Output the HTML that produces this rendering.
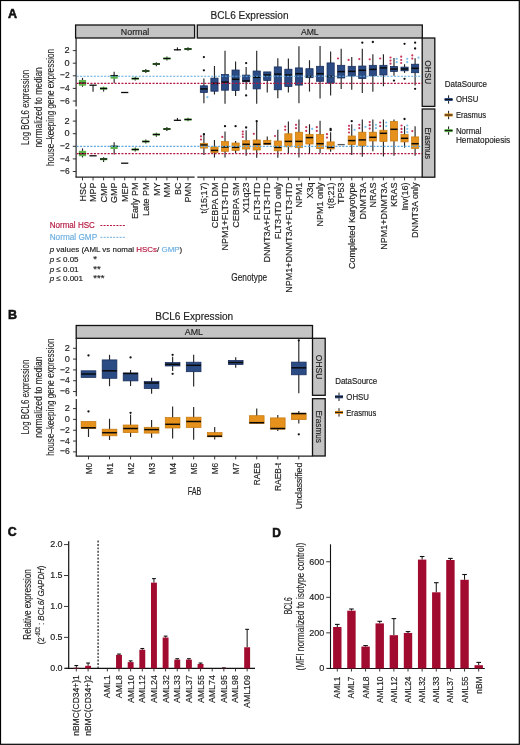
<!DOCTYPE html>
<html><head><meta charset="utf-8"><style>
html,body{margin:0;padding:0;background:#fff;}
svg{display:block;font-family:"Liberation Sans", sans-serif;will-change:transform;}
</style></head><body>
<svg width="520" height="745" viewBox="0 0 520 745">
<rect x="0" y="0" width="520" height="745" fill="#fff"/>
<text x="8" y="18.3" font-size="12.5" text-anchor="start" fill="#111" stroke="#111" stroke-width="0.55" font-weight="bold">A</text>
<text x="249.5" y="18.9" font-size="10" text-anchor="middle" fill="#222" stroke="#222" stroke-width="0.16" textLength="78" lengthAdjust="spacingAndGlyphs">BCL6 Expression</text>
<rect x="75.60" y="25.00" width="119.00" height="13.00" fill="#c4c4c4" stroke="#111" stroke-width="1.3"/>
<rect x="197.30" y="25.00" width="225.00" height="13.00" fill="#c4c4c4" stroke="#111" stroke-width="1.3"/>
<text x="135.1" y="34.7" font-size="8.8" text-anchor="middle" fill="#222" stroke="#222" stroke-width="0.16" textLength="28.5" lengthAdjust="spacingAndGlyphs">Normal</text>
<text x="309.8" y="34.7" font-size="8.8" text-anchor="middle" fill="#222" stroke="#222" stroke-width="0.16" textLength="17.8" lengthAdjust="spacingAndGlyphs">AML</text>
<rect x="422.20" y="38.00" width="12.60" height="68.40" fill="#c4c4c4" stroke="#111" stroke-width="1.3"/>
<rect x="422.20" y="109.00" width="12.60" height="68.20" fill="#c4c4c4" stroke="#111" stroke-width="1.3"/>
<text x="425.1" y="72.2" font-size="9.2" text-anchor="middle" fill="#222" stroke="#222" stroke-width="0.16" textLength="23.8" lengthAdjust="spacingAndGlyphs" transform="rotate(90 425.1 72.2)">OHSU</text>
<text x="425.1" y="143.3" font-size="9.2" text-anchor="middle" fill="#222" stroke="#222" stroke-width="0.16" textLength="31.6" lengthAdjust="spacingAndGlyphs" transform="rotate(90 425.1 143.3)">Erasmus</text>
<line x1="76.1" y1="37.7" x2="76.1" y2="106.5" stroke="#222" stroke-width="1.2"/>
<line x1="76.1" y1="109.2" x2="76.1" y2="177.2" stroke="#222" stroke-width="1.2"/>
<line x1="75.5" y1="177.1" x2="194.6" y2="177.1" stroke="#222" stroke-width="1.2"/>
<line x1="197.3" y1="177.1" x2="422.2" y2="177.1" stroke="#222" stroke-width="1.2"/>
<line x1="72.8" y1="50.6" x2="76.1" y2="50.6" stroke="#222" stroke-width="0.9"/>
<text x="69.6" y="53.2" font-size="9.2" text-anchor="end" fill="#222" stroke="#222" stroke-width="0.16">2</text>
<line x1="72.8" y1="63.2" x2="76.1" y2="63.2" stroke="#222" stroke-width="0.9"/>
<text x="69.6" y="65.8" font-size="9.2" text-anchor="end" fill="#222" stroke="#222" stroke-width="0.16">0</text>
<line x1="72.8" y1="75.8" x2="76.1" y2="75.8" stroke="#222" stroke-width="0.9"/>
<text x="69.6" y="78.39999999999999" font-size="9.2" text-anchor="end" fill="#222" stroke="#222" stroke-width="0.16" textLength="9.6" lengthAdjust="spacingAndGlyphs">−2</text>
<line x1="72.8" y1="88.4" x2="76.1" y2="88.4" stroke="#222" stroke-width="0.9"/>
<text x="69.6" y="91.0" font-size="9.2" text-anchor="end" fill="#222" stroke="#222" stroke-width="0.16" textLength="9.6" lengthAdjust="spacingAndGlyphs">−4</text>
<line x1="72.8" y1="101.0" x2="76.1" y2="101.0" stroke="#222" stroke-width="0.9"/>
<text x="69.6" y="103.6" font-size="9.2" text-anchor="end" fill="#222" stroke="#222" stroke-width="0.16" textLength="9.6" lengthAdjust="spacingAndGlyphs">−6</text>
<line x1="72.8" y1="121.1" x2="76.1" y2="121.1" stroke="#222" stroke-width="0.9"/>
<text x="69.6" y="123.69999999999999" font-size="9.2" text-anchor="end" fill="#222" stroke="#222" stroke-width="0.16">2</text>
<line x1="72.8" y1="133.7" x2="76.1" y2="133.7" stroke="#222" stroke-width="0.9"/>
<text x="69.6" y="136.29999999999998" font-size="9.2" text-anchor="end" fill="#222" stroke="#222" stroke-width="0.16">0</text>
<line x1="72.8" y1="146.3" x2="76.1" y2="146.3" stroke="#222" stroke-width="0.9"/>
<text x="69.6" y="148.9" font-size="9.2" text-anchor="end" fill="#222" stroke="#222" stroke-width="0.16" textLength="9.6" lengthAdjust="spacingAndGlyphs">−2</text>
<line x1="72.8" y1="158.9" x2="76.1" y2="158.9" stroke="#222" stroke-width="0.9"/>
<text x="69.6" y="161.5" font-size="9.2" text-anchor="end" fill="#222" stroke="#222" stroke-width="0.16" textLength="9.6" lengthAdjust="spacingAndGlyphs">−4</text>
<line x1="72.8" y1="171.5" x2="76.1" y2="171.5" stroke="#222" stroke-width="0.9"/>
<text x="69.6" y="174.1" font-size="9.2" text-anchor="end" fill="#222" stroke="#222" stroke-width="0.16" textLength="9.6" lengthAdjust="spacingAndGlyphs">−6</text>
<line x1="82.5" y1="177.1" x2="82.5" y2="180.4" stroke="#222" stroke-width="0.9"/>
<text x="85.7" y="182.5" font-size="9" text-anchor="end" fill="#222" stroke="#222" stroke-width="0.16" transform="rotate(-90 85.7 182.5)">HSC</text>
<line x1="93.05" y1="177.1" x2="93.05" y2="180.4" stroke="#222" stroke-width="0.9"/>
<text x="96.25" y="182.5" font-size="9" text-anchor="end" fill="#222" stroke="#222" stroke-width="0.16" transform="rotate(-90 96.25 182.5)">MPP</text>
<line x1="103.6" y1="177.1" x2="103.6" y2="180.4" stroke="#222" stroke-width="0.9"/>
<text x="106.8" y="182.5" font-size="9" text-anchor="end" fill="#222" stroke="#222" stroke-width="0.16" transform="rotate(-90 106.8 182.5)">CMP</text>
<line x1="114.15" y1="177.1" x2="114.15" y2="180.4" stroke="#222" stroke-width="0.9"/>
<text x="117.35000000000001" y="182.5" font-size="9" text-anchor="end" fill="#222" stroke="#222" stroke-width="0.16" transform="rotate(-90 117.35000000000001 182.5)">GMP</text>
<line x1="124.7" y1="177.1" x2="124.7" y2="180.4" stroke="#222" stroke-width="0.9"/>
<text x="127.9" y="182.5" font-size="9" text-anchor="end" fill="#222" stroke="#222" stroke-width="0.16" transform="rotate(-90 127.9 182.5)">MEP</text>
<line x1="135.25" y1="177.1" x2="135.25" y2="180.4" stroke="#222" stroke-width="0.9"/>
<text x="138.45" y="182.5" font-size="9" text-anchor="end" fill="#222" stroke="#222" stroke-width="0.16" transform="rotate(-90 138.45 182.5)">Early PM</text>
<line x1="145.8" y1="177.1" x2="145.8" y2="180.4" stroke="#222" stroke-width="0.9"/>
<text x="149.0" y="182.5" font-size="9" text-anchor="end" fill="#222" stroke="#222" stroke-width="0.16" transform="rotate(-90 149.0 182.5)">Late PM</text>
<line x1="156.35000000000002" y1="177.1" x2="156.35000000000002" y2="180.4" stroke="#222" stroke-width="0.9"/>
<text x="159.55" y="182.5" font-size="9" text-anchor="end" fill="#222" stroke="#222" stroke-width="0.16" transform="rotate(-90 159.55 182.5)">MY</text>
<line x1="166.9" y1="177.1" x2="166.9" y2="180.4" stroke="#222" stroke-width="0.9"/>
<text x="170.1" y="182.5" font-size="9" text-anchor="end" fill="#222" stroke="#222" stroke-width="0.16" transform="rotate(-90 170.1 182.5)">MM</text>
<line x1="177.45" y1="177.1" x2="177.45" y2="180.4" stroke="#222" stroke-width="0.9"/>
<text x="180.64999999999998" y="182.5" font-size="9" text-anchor="end" fill="#222" stroke="#222" stroke-width="0.16" transform="rotate(-90 180.64999999999998 182.5)">BC</text>
<line x1="188.0" y1="177.1" x2="188.0" y2="180.4" stroke="#222" stroke-width="0.9"/>
<text x="191.2" y="182.5" font-size="9" text-anchor="end" fill="#222" stroke="#222" stroke-width="0.16" transform="rotate(-90 191.2 182.5)">PMN</text>
<line x1="203.9" y1="177.1" x2="203.9" y2="180.4" stroke="#222" stroke-width="0.9"/>
<text x="207.1" y="182.5" font-size="9" text-anchor="end" fill="#222" stroke="#222" stroke-width="0.16" transform="rotate(-90 207.1 182.5)">t(15;17)</text>
<line x1="214.46" y1="177.1" x2="214.46" y2="180.4" stroke="#222" stroke-width="0.9"/>
<text x="217.66" y="182.5" font-size="9" text-anchor="end" fill="#222" stroke="#222" stroke-width="0.16" transform="rotate(-90 217.66 182.5)">CEBPA DM</text>
<line x1="225.02" y1="177.1" x2="225.02" y2="180.4" stroke="#222" stroke-width="0.9"/>
<text x="228.22" y="182.5" font-size="9" text-anchor="end" fill="#222" stroke="#222" stroke-width="0.16" transform="rotate(-90 228.22 182.5)">NPM1+FLT3-ITD</text>
<line x1="235.58" y1="177.1" x2="235.58" y2="180.4" stroke="#222" stroke-width="0.9"/>
<text x="238.78" y="182.5" font-size="9" text-anchor="end" fill="#222" stroke="#222" stroke-width="0.16" transform="rotate(-90 238.78 182.5)">CEBPA SM</text>
<line x1="246.14000000000001" y1="177.1" x2="246.14000000000001" y2="180.4" stroke="#222" stroke-width="0.9"/>
<text x="249.34" y="182.5" font-size="9" text-anchor="end" fill="#222" stroke="#222" stroke-width="0.16" transform="rotate(-90 249.34 182.5)">X11q23</text>
<line x1="256.7" y1="177.1" x2="256.7" y2="180.4" stroke="#222" stroke-width="0.9"/>
<text x="259.9" y="182.5" font-size="9" text-anchor="end" fill="#222" stroke="#222" stroke-width="0.16" transform="rotate(-90 259.9 182.5)">FLT3-ITD</text>
<line x1="267.26" y1="177.1" x2="267.26" y2="180.4" stroke="#222" stroke-width="0.9"/>
<text x="270.46" y="182.5" font-size="9" text-anchor="end" fill="#222" stroke="#222" stroke-width="0.16" transform="rotate(-90 270.46 182.5)">DNMT3A+FLT3-ITD</text>
<line x1="277.82" y1="177.1" x2="277.82" y2="180.4" stroke="#222" stroke-width="0.9"/>
<text x="281.02" y="182.5" font-size="9" text-anchor="end" fill="#222" stroke="#222" stroke-width="0.16" transform="rotate(-90 281.02 182.5)">FLT3-ITD only</text>
<line x1="288.38" y1="177.1" x2="288.38" y2="180.4" stroke="#222" stroke-width="0.9"/>
<text x="291.58" y="182.5" font-size="9" text-anchor="end" fill="#222" stroke="#222" stroke-width="0.16" transform="rotate(-90 291.58 182.5)">NPM1+DNMT3A+FLT3-ITD</text>
<line x1="298.94" y1="177.1" x2="298.94" y2="180.4" stroke="#222" stroke-width="0.9"/>
<text x="302.14" y="182.5" font-size="9" text-anchor="end" fill="#222" stroke="#222" stroke-width="0.16" transform="rotate(-90 302.14 182.5)">NPM1</text>
<line x1="309.5" y1="177.1" x2="309.5" y2="180.4" stroke="#222" stroke-width="0.9"/>
<text x="312.7" y="182.5" font-size="9" text-anchor="end" fill="#222" stroke="#222" stroke-width="0.16" transform="rotate(-90 312.7 182.5)">X3q</text>
<line x1="320.06" y1="177.1" x2="320.06" y2="180.4" stroke="#222" stroke-width="0.9"/>
<text x="323.26" y="182.5" font-size="9" text-anchor="end" fill="#222" stroke="#222" stroke-width="0.16" transform="rotate(-90 323.26 182.5)">NPM1 only</text>
<line x1="330.62" y1="177.1" x2="330.62" y2="180.4" stroke="#222" stroke-width="0.9"/>
<text x="333.82" y="182.5" font-size="9" text-anchor="end" fill="#222" stroke="#222" stroke-width="0.16" transform="rotate(-90 333.82 182.5)">t(8;21)</text>
<line x1="341.18" y1="177.1" x2="341.18" y2="180.4" stroke="#222" stroke-width="0.9"/>
<text x="344.38" y="182.5" font-size="9" text-anchor="end" fill="#222" stroke="#222" stroke-width="0.16" transform="rotate(-90 344.38 182.5)">TP53</text>
<line x1="351.74" y1="177.1" x2="351.74" y2="180.4" stroke="#222" stroke-width="0.9"/>
<text x="354.94" y="182.5" font-size="9" text-anchor="end" fill="#222" stroke="#222" stroke-width="0.16" transform="rotate(-90 354.94 182.5)">Completed Karyotype</text>
<line x1="362.3" y1="177.1" x2="362.3" y2="180.4" stroke="#222" stroke-width="0.9"/>
<text x="365.5" y="182.5" font-size="9" text-anchor="end" fill="#222" stroke="#222" stroke-width="0.16" transform="rotate(-90 365.5 182.5)">DNMT3A</text>
<line x1="372.86" y1="177.1" x2="372.86" y2="180.4" stroke="#222" stroke-width="0.9"/>
<text x="376.06" y="182.5" font-size="9" text-anchor="end" fill="#222" stroke="#222" stroke-width="0.16" transform="rotate(-90 376.06 182.5)">NRAS</text>
<line x1="383.42" y1="177.1" x2="383.42" y2="180.4" stroke="#222" stroke-width="0.9"/>
<text x="386.62" y="182.5" font-size="9" text-anchor="end" fill="#222" stroke="#222" stroke-width="0.16" transform="rotate(-90 386.62 182.5)">NPM1+DNMT3A</text>
<line x1="393.98" y1="177.1" x2="393.98" y2="180.4" stroke="#222" stroke-width="0.9"/>
<text x="397.18" y="182.5" font-size="9" text-anchor="end" fill="#222" stroke="#222" stroke-width="0.16" transform="rotate(-90 397.18 182.5)">KRAS</text>
<line x1="404.54" y1="177.1" x2="404.54" y2="180.4" stroke="#222" stroke-width="0.9"/>
<text x="407.74" y="182.5" font-size="9" text-anchor="end" fill="#222" stroke="#222" stroke-width="0.16" transform="rotate(-90 407.74 182.5)">Inv(16)</text>
<line x1="415.1" y1="177.1" x2="415.1" y2="180.4" stroke="#222" stroke-width="0.9"/>
<text x="418.3" y="182.5" font-size="9" text-anchor="end" fill="#222" stroke="#222" stroke-width="0.16" transform="rotate(-90 418.3 182.5)">DNMT3A only</text>
<line x1="82.5" y1="77.9" x2="82.5" y2="86.8" stroke="#262626" stroke-width="1.15"/>
<rect x="78.90" y="80.00" width="7.20" height="5.70" fill="#5cb54a"/>
<line x1="78.9" y1="83.1" x2="86.1" y2="83.1" stroke="#0a0a0a" stroke-width="1.3"/>
<line x1="93.05" y1="85.2" x2="93.05" y2="91.8" stroke="#262626" stroke-width="1.15"/>
<line x1="89.45" y1="85.2" x2="96.64999999999999" y2="85.2" stroke="#0a0a0a" stroke-width="1.3"/>
<line x1="103.6" y1="86.8" x2="103.6" y2="91.4" stroke="#262626" stroke-width="1.15"/>
<rect x="100.00" y="87.30" width="7.20" height="2.40" fill="#5cb54a"/>
<line x1="100.0" y1="88.5" x2="107.19999999999999" y2="88.5" stroke="#0a0a0a" stroke-width="1.3"/>
<line x1="114.15" y1="71.7" x2="114.15" y2="83.1" stroke="#262626" stroke-width="1.15"/>
<rect x="110.55" y="75.10" width="7.20" height="3.60" fill="#5cb54a"/>
<line x1="110.55000000000001" y1="75.6" x2="117.75" y2="75.6" stroke="#0a0a0a" stroke-width="1.3"/>
<line x1="121.10000000000001" y1="92.5" x2="128.3" y2="92.5" stroke="#0a0a0a" stroke-width="1.3"/>
<line x1="135.25" y1="76.8" x2="135.25" y2="80.6" stroke="#262626" stroke-width="1.15"/>
<rect x="131.65" y="77.60" width="7.20" height="2.00" fill="#5cb54a"/>
<line x1="131.65" y1="78.6" x2="138.85" y2="78.6" stroke="#0a0a0a" stroke-width="1.3"/>
<line x1="145.8" y1="69.0" x2="145.8" y2="73.0" stroke="#262626" stroke-width="1.15"/>
<rect x="142.20" y="70.00" width="7.20" height="2.00" fill="#5cb54a"/>
<line x1="142.20000000000002" y1="71.0" x2="149.4" y2="71.0" stroke="#0a0a0a" stroke-width="1.3"/>
<line x1="156.35000000000002" y1="62.2" x2="156.35000000000002" y2="66.2" stroke="#262626" stroke-width="1.15"/>
<rect x="152.75" y="63.00" width="7.20" height="2.00" fill="#5cb54a"/>
<line x1="152.75000000000003" y1="64.0" x2="159.95000000000002" y2="64.0" stroke="#0a0a0a" stroke-width="1.3"/>
<line x1="166.9" y1="56.4" x2="166.9" y2="60.4" stroke="#262626" stroke-width="1.15"/>
<rect x="163.30" y="57.50" width="7.20" height="2.00" fill="#5cb54a"/>
<line x1="163.3" y1="58.5" x2="170.5" y2="58.5" stroke="#0a0a0a" stroke-width="1.3"/>
<line x1="177.45" y1="47.4" x2="177.45" y2="50.4" stroke="#262626" stroke-width="1.15"/>
<line x1="173.85" y1="49.8" x2="181.04999999999998" y2="49.8" stroke="#0a0a0a" stroke-width="1.3"/>
<line x1="188.0" y1="47.2" x2="188.0" y2="50.8" stroke="#262626" stroke-width="1.15"/>
<rect x="184.40" y="48.00" width="7.20" height="2.00" fill="#5cb54a"/>
<line x1="184.4" y1="49.0" x2="191.6" y2="49.0" stroke="#0a0a0a" stroke-width="1.3"/>
<line x1="82.5" y1="148.4" x2="82.5" y2="157.5" stroke="#262626" stroke-width="1.15"/>
<rect x="78.90" y="150.80" width="7.20" height="5.40" fill="#5cb54a"/>
<line x1="78.9" y1="153.6" x2="86.1" y2="153.6" stroke="#0a0a0a" stroke-width="1.3"/>
<line x1="89.45" y1="155.8" x2="96.64999999999999" y2="155.8" stroke="#0a0a0a" stroke-width="1.3"/>
<line x1="103.6" y1="157.3" x2="103.6" y2="162.0" stroke="#262626" stroke-width="1.15"/>
<rect x="100.00" y="158.00" width="7.20" height="2.20" fill="#5cb54a"/>
<line x1="100.0" y1="159.0" x2="107.19999999999999" y2="159.0" stroke="#0a0a0a" stroke-width="1.3"/>
<line x1="114.15" y1="142.3" x2="114.15" y2="154.4" stroke="#262626" stroke-width="1.15"/>
<rect x="110.55" y="145.70" width="7.20" height="3.30" fill="#5cb54a"/>
<line x1="110.55000000000001" y1="146.3" x2="117.75" y2="146.3" stroke="#0a0a0a" stroke-width="1.3"/>
<line x1="121.10000000000001" y1="163.2" x2="128.3" y2="163.2" stroke="#0a0a0a" stroke-width="1.3"/>
<line x1="135.25" y1="147.5" x2="135.25" y2="151.5" stroke="#262626" stroke-width="1.15"/>
<rect x="131.65" y="148.50" width="7.20" height="2.00" fill="#5cb54a"/>
<line x1="131.65" y1="149.5" x2="138.85" y2="149.5" stroke="#0a0a0a" stroke-width="1.3"/>
<line x1="145.8" y1="139.5" x2="145.8" y2="143.5" stroke="#262626" stroke-width="1.15"/>
<rect x="142.20" y="140.50" width="7.20" height="2.00" fill="#5cb54a"/>
<line x1="142.20000000000002" y1="141.5" x2="149.4" y2="141.5" stroke="#0a0a0a" stroke-width="1.3"/>
<line x1="156.35000000000002" y1="132.7" x2="156.35000000000002" y2="136.7" stroke="#262626" stroke-width="1.15"/>
<rect x="152.75" y="133.50" width="7.20" height="2.00" fill="#5cb54a"/>
<line x1="152.75000000000003" y1="134.5" x2="159.95000000000002" y2="134.5" stroke="#0a0a0a" stroke-width="1.3"/>
<line x1="166.9" y1="126.9" x2="166.9" y2="130.9" stroke="#262626" stroke-width="1.15"/>
<rect x="163.30" y="128.00" width="7.20" height="2.00" fill="#5cb54a"/>
<line x1="163.3" y1="129.0" x2="170.5" y2="129.0" stroke="#0a0a0a" stroke-width="1.3"/>
<line x1="177.45" y1="117.9" x2="177.45" y2="120.9" stroke="#262626" stroke-width="1.15"/>
<line x1="173.85" y1="120.3" x2="181.04999999999998" y2="120.3" stroke="#0a0a0a" stroke-width="1.3"/>
<line x1="188.0" y1="117.7" x2="188.0" y2="121.3" stroke="#262626" stroke-width="1.15"/>
<rect x="184.40" y="118.50" width="7.20" height="2.00" fill="#5cb54a"/>
<line x1="184.4" y1="119.5" x2="191.6" y2="119.5" stroke="#0a0a0a" stroke-width="1.3"/>
<line x1="203.9" y1="78.4" x2="203.9" y2="103.3" stroke="#262626" stroke-width="1.15"/>
<rect x="200.30" y="85.80" width="7.20" height="6.70" fill="#2b4b84" stroke="#182d5a" stroke-width="0.75"/>
<line x1="200.3" y1="88.9" x2="207.5" y2="88.9" stroke="#0a0a0a" stroke-width="1.5"/>
<circle cx="203.90" cy="57.10" r="1.15" fill="#111"/>
<circle cx="203.90" cy="70.30" r="1.15" fill="#111"/>
<line x1="214.46" y1="66.0" x2="214.46" y2="94.5" stroke="#262626" stroke-width="1.15"/>
<rect x="210.86" y="78.10" width="7.20" height="13.10" fill="#2b4b84" stroke="#182d5a" stroke-width="0.75"/>
<line x1="210.86" y1="83.4" x2="218.06" y2="83.4" stroke="#0a0a0a" stroke-width="1.5"/>
<line x1="225.02" y1="50.8" x2="225.02" y2="103.7" stroke="#262626" stroke-width="1.15"/>
<rect x="221.42" y="74.60" width="7.20" height="15.60" fill="#2b4b84" stroke="#182d5a" stroke-width="0.75"/>
<line x1="221.42000000000002" y1="82.1" x2="228.62" y2="82.1" stroke="#0a0a0a" stroke-width="1.5"/>
<line x1="235.58" y1="61.6" x2="235.58" y2="95.9" stroke="#262626" stroke-width="1.15"/>
<rect x="231.98" y="70.00" width="7.20" height="20.50" fill="#2b4b84" stroke="#182d5a" stroke-width="0.75"/>
<line x1="231.98000000000002" y1="79.3" x2="239.18" y2="79.3" stroke="#0a0a0a" stroke-width="1.5"/>
<line x1="246.14000000000001" y1="67.0" x2="246.14000000000001" y2="89.8" stroke="#262626" stroke-width="1.15"/>
<rect x="242.54" y="75.10" width="7.20" height="6.70" fill="#2b4b84" stroke="#182d5a" stroke-width="0.75"/>
<line x1="242.54000000000002" y1="80.9" x2="249.74" y2="80.9" stroke="#0a0a0a" stroke-width="1.5"/>
<circle cx="246.14" cy="63.10" r="1.15" fill="#111"/>
<circle cx="246.14" cy="95.40" r="1.15" fill="#111"/>
<line x1="256.7" y1="50.8" x2="256.7" y2="103.7" stroke="#262626" stroke-width="1.15"/>
<rect x="253.10" y="71.00" width="7.20" height="17.90" fill="#2b4b84" stroke="#182d5a" stroke-width="0.75"/>
<line x1="253.1" y1="77.3" x2="260.3" y2="77.3" stroke="#0a0a0a" stroke-width="1.5"/>
<line x1="267.26" y1="71.9" x2="267.26" y2="92.5" stroke="#262626" stroke-width="1.15"/>
<rect x="263.66" y="71.90" width="7.20" height="8.50" fill="#2b4b84" stroke="#182d5a" stroke-width="0.75"/>
<line x1="263.65999999999997" y1="75.0" x2="270.86" y2="75.0" stroke="#0a0a0a" stroke-width="1.5"/>
<line x1="277.82" y1="58.2" x2="277.82" y2="98.3" stroke="#262626" stroke-width="1.15"/>
<rect x="274.22" y="66.90" width="7.20" height="22.90" fill="#2b4b84" stroke="#182d5a" stroke-width="0.75"/>
<line x1="274.21999999999997" y1="74.1" x2="281.42" y2="74.1" stroke="#0a0a0a" stroke-width="1.5"/>
<line x1="288.38" y1="58.5" x2="288.38" y2="92.5" stroke="#262626" stroke-width="1.15"/>
<rect x="284.78" y="69.20" width="7.20" height="17.30" fill="#2b4b84" stroke="#182d5a" stroke-width="0.75"/>
<line x1="284.78" y1="75.0" x2="291.98" y2="75.0" stroke="#0a0a0a" stroke-width="1.5"/>
<line x1="298.94" y1="46.3" x2="298.94" y2="103.3" stroke="#262626" stroke-width="1.15"/>
<rect x="295.34" y="67.90" width="7.20" height="17.20" fill="#2b4b84" stroke="#182d5a" stroke-width="0.75"/>
<line x1="295.34" y1="73.7" x2="302.54" y2="73.7" stroke="#0a0a0a" stroke-width="1.5"/>
<line x1="309.5" y1="60.2" x2="309.5" y2="91.6" stroke="#262626" stroke-width="1.15"/>
<rect x="305.90" y="68.70" width="7.20" height="9.00" fill="#2b4b84" stroke="#182d5a" stroke-width="0.75"/>
<line x1="305.9" y1="76.4" x2="313.1" y2="76.4" stroke="#0a0a0a" stroke-width="1.5"/>
<line x1="320.06" y1="46.1" x2="320.06" y2="98.6" stroke="#262626" stroke-width="1.15"/>
<rect x="316.46" y="66.30" width="7.20" height="15.00" fill="#2b4b84" stroke="#182d5a" stroke-width="0.75"/>
<line x1="316.46" y1="73.7" x2="323.66" y2="73.7" stroke="#0a0a0a" stroke-width="1.5"/>
<line x1="330.62" y1="51.5" x2="330.62" y2="95.6" stroke="#262626" stroke-width="1.15"/>
<rect x="327.02" y="62.90" width="7.20" height="20.20" fill="#2b4b84" stroke="#182d5a" stroke-width="0.75"/>
<line x1="327.02" y1="76.4" x2="334.22" y2="76.4" stroke="#0a0a0a" stroke-width="1.5"/>
<line x1="341.18" y1="48.8" x2="341.18" y2="89.1" stroke="#262626" stroke-width="1.15"/>
<rect x="337.58" y="65.30" width="7.20" height="12.70" fill="#2b4b84" stroke="#182d5a" stroke-width="0.75"/>
<line x1="337.58" y1="71.6" x2="344.78000000000003" y2="71.6" stroke="#0a0a0a" stroke-width="1.5"/>
<line x1="351.74" y1="57.1" x2="351.74" y2="89.8" stroke="#262626" stroke-width="1.15"/>
<rect x="348.14" y="66.30" width="7.20" height="9.70" fill="#2b4b84" stroke="#182d5a" stroke-width="0.75"/>
<line x1="348.14" y1="71.4" x2="355.34000000000003" y2="71.4" stroke="#0a0a0a" stroke-width="1.5"/>
<line x1="362.3" y1="48.8" x2="362.3" y2="92.9" stroke="#262626" stroke-width="1.15"/>
<rect x="358.70" y="66.00" width="7.20" height="12.60" fill="#2b4b84" stroke="#182d5a" stroke-width="0.75"/>
<line x1="358.7" y1="70.3" x2="365.90000000000003" y2="70.3" stroke="#0a0a0a" stroke-width="1.5"/>
<circle cx="362.30" cy="42.70" r="1.15" fill="#111"/>
<line x1="372.86" y1="54.2" x2="372.86" y2="91.8" stroke="#262626" stroke-width="1.15"/>
<rect x="369.26" y="65.30" width="7.20" height="10.40" fill="#2b4b84" stroke="#182d5a" stroke-width="0.75"/>
<line x1="369.26" y1="69.4" x2="376.46000000000004" y2="69.4" stroke="#0a0a0a" stroke-width="1.5"/>
<circle cx="372.86" cy="42.00" r="1.15" fill="#111"/>
<line x1="383.42" y1="54.2" x2="383.42" y2="86.2" stroke="#262626" stroke-width="1.15"/>
<rect x="379.82" y="65.30" width="7.20" height="9.70" fill="#2b4b84" stroke="#182d5a" stroke-width="0.75"/>
<line x1="379.82" y1="67.9" x2="387.02000000000004" y2="67.9" stroke="#0a0a0a" stroke-width="1.5"/>
<line x1="393.98" y1="58.1" x2="393.98" y2="75.8" stroke="#262626" stroke-width="1.15"/>
<rect x="390.38" y="66.50" width="7.20" height="5.00" fill="#2b4b84" stroke="#182d5a" stroke-width="0.75"/>
<line x1="390.38" y1="69.1" x2="397.58000000000004" y2="69.1" stroke="#0a0a0a" stroke-width="1.5"/>
<circle cx="393.98" cy="80.60" r="1.15" fill="#111"/>
<line x1="404.54" y1="64.2" x2="404.54" y2="72.9" stroke="#262626" stroke-width="1.15"/>
<rect x="400.94" y="67.10" width="7.20" height="3.70" fill="#2b4b84" stroke="#182d5a" stroke-width="0.75"/>
<line x1="400.94" y1="69.0" x2="408.14000000000004" y2="69.0" stroke="#0a0a0a" stroke-width="1.5"/>
<circle cx="404.54" cy="43.80" r="1.15" fill="#111"/>
<circle cx="404.54" cy="78.80" r="1.15" fill="#111"/>
<line x1="415.1" y1="58.3" x2="415.1" y2="85.4" stroke="#262626" stroke-width="1.15"/>
<rect x="411.50" y="64.20" width="7.20" height="8.50" fill="#2b4b84" stroke="#182d5a" stroke-width="0.75"/>
<line x1="411.5" y1="68.3" x2="418.70000000000005" y2="68.3" stroke="#0a0a0a" stroke-width="1.5"/>
<circle cx="415.10" cy="42.70" r="1.15" fill="#111"/>
<circle cx="415.10" cy="48.50" r="1.15" fill="#111"/>
<circle cx="415.10" cy="88.80" r="1.15" fill="#111"/>
<line x1="203.9" y1="133.6" x2="203.9" y2="155.1" stroke="#262626" stroke-width="1.15"/>
<rect x="200.30" y="143.30" width="7.20" height="4.80" fill="#e5911b" stroke="#c77a12" stroke-width="0.75"/>
<line x1="200.3" y1="145.0" x2="207.5" y2="145.0" stroke="#0a0a0a" stroke-width="1.5"/>
<circle cx="203.90" cy="134.20" r="1.15" fill="#111"/>
<line x1="214.46" y1="140.0" x2="214.46" y2="157.5" stroke="#262626" stroke-width="1.15"/>
<rect x="210.86" y="147.00" width="7.20" height="5.40" fill="#e5911b" stroke="#c77a12" stroke-width="0.75"/>
<line x1="210.86" y1="150.4" x2="218.06" y2="150.4" stroke="#0a0a0a" stroke-width="1.5"/>
<line x1="225.02" y1="131.6" x2="225.02" y2="157.5" stroke="#262626" stroke-width="1.15"/>
<rect x="221.42" y="141.60" width="7.20" height="9.70" fill="#e5911b" stroke="#c77a12" stroke-width="0.75"/>
<line x1="221.42000000000002" y1="147.0" x2="228.62" y2="147.0" stroke="#0a0a0a" stroke-width="1.5"/>
<circle cx="225.02" cy="126.20" r="1.15" fill="#111"/>
<line x1="235.58" y1="141.0" x2="235.58" y2="153.1" stroke="#262626" stroke-width="1.15"/>
<rect x="231.98" y="143.00" width="7.20" height="7.40" fill="#e5911b" stroke="#c77a12" stroke-width="0.75"/>
<line x1="231.98000000000002" y1="147.3" x2="239.18" y2="147.3" stroke="#0a0a0a" stroke-width="1.5"/>
<circle cx="235.58" cy="126.20" r="1.15" fill="#111"/>
<line x1="246.14000000000001" y1="130.2" x2="246.14000000000001" y2="155.8" stroke="#262626" stroke-width="1.15"/>
<rect x="242.54" y="140.70" width="7.20" height="8.30" fill="#e5911b" stroke="#c77a12" stroke-width="0.75"/>
<line x1="242.54000000000002" y1="144.3" x2="249.74" y2="144.3" stroke="#0a0a0a" stroke-width="1.5"/>
<circle cx="246.14" cy="127.50" r="1.15" fill="#111"/>
<line x1="256.7" y1="121.5" x2="256.7" y2="157.8" stroke="#262626" stroke-width="1.15"/>
<rect x="253.10" y="140.00" width="7.20" height="10.00" fill="#e5911b" stroke="#c77a12" stroke-width="0.75"/>
<line x1="253.1" y1="144.3" x2="260.3" y2="144.3" stroke="#0a0a0a" stroke-width="1.5"/>
<circle cx="256.70" cy="121.20" r="1.15" fill="#111"/>
<line x1="267.26" y1="136.5" x2="267.26" y2="144.6" stroke="#262626" stroke-width="1.15"/>
<rect x="263.66" y="140.30" width="7.20" height="4.30" fill="#e5911b" stroke="#c77a12" stroke-width="0.75"/>
<line x1="263.65999999999997" y1="143.7" x2="270.86" y2="143.7" stroke="#0a0a0a" stroke-width="1.5"/>
<line x1="277.82" y1="129.8" x2="277.82" y2="157.8" stroke="#262626" stroke-width="1.15"/>
<rect x="274.22" y="141.00" width="7.20" height="9.80" fill="#e5911b" stroke="#c77a12" stroke-width="0.75"/>
<line x1="274.21999999999997" y1="147.4" x2="281.42" y2="147.4" stroke="#0a0a0a" stroke-width="1.5"/>
<line x1="288.38" y1="121.5" x2="288.38" y2="153.5" stroke="#262626" stroke-width="1.15"/>
<rect x="284.78" y="133.80" width="7.20" height="13.00" fill="#e5911b" stroke="#c77a12" stroke-width="0.75"/>
<line x1="284.78" y1="141.4" x2="291.98" y2="141.4" stroke="#0a0a0a" stroke-width="1.5"/>
<line x1="298.94" y1="119.4" x2="298.94" y2="157.5" stroke="#262626" stroke-width="1.15"/>
<rect x="295.34" y="132.20" width="7.20" height="15.50" fill="#e5911b" stroke="#c77a12" stroke-width="0.75"/>
<line x1="295.34" y1="141.4" x2="302.54" y2="141.4" stroke="#0a0a0a" stroke-width="1.5"/>
<line x1="309.5" y1="124.2" x2="309.5" y2="153.8" stroke="#262626" stroke-width="1.15"/>
<rect x="305.90" y="134.60" width="7.20" height="9.40" fill="#e5911b" stroke="#c77a12" stroke-width="0.75"/>
<line x1="305.9" y1="137.6" x2="313.1" y2="137.6" stroke="#0a0a0a" stroke-width="1.5"/>
<line x1="320.06" y1="120.8" x2="320.06" y2="153.1" stroke="#262626" stroke-width="1.15"/>
<rect x="316.46" y="134.60" width="7.20" height="13.80" fill="#e5911b" stroke="#c77a12" stroke-width="0.75"/>
<line x1="316.46" y1="143.7" x2="323.66" y2="143.7" stroke="#0a0a0a" stroke-width="1.5"/>
<line x1="330.62" y1="132.2" x2="330.62" y2="151.7" stroke="#262626" stroke-width="1.15"/>
<rect x="327.02" y="141.90" width="7.20" height="7.10" fill="#e5911b" stroke="#c77a12" stroke-width="0.75"/>
<line x1="327.02" y1="147.3" x2="334.22" y2="147.3" stroke="#0a0a0a" stroke-width="1.5"/>
<circle cx="330.62" cy="129.00" r="1.15" fill="#111"/>
<circle cx="330.62" cy="130.20" r="1.15" fill="#111"/>
<line x1="337.58" y1="144.6" x2="344.78000000000003" y2="144.6" stroke="#555" stroke-width="1.3"/>
<line x1="351.74" y1="124.2" x2="351.74" y2="155.1" stroke="#262626" stroke-width="1.15"/>
<rect x="348.14" y="136.00" width="7.20" height="8.60" fill="#e5911b" stroke="#c77a12" stroke-width="0.75"/>
<line x1="348.14" y1="140.6" x2="355.34000000000003" y2="140.6" stroke="#0a0a0a" stroke-width="1.5"/>
<circle cx="351.74" cy="121.20" r="1.15" fill="#111"/>
<line x1="362.3" y1="119.4" x2="362.3" y2="156.7" stroke="#262626" stroke-width="1.15"/>
<rect x="358.70" y="132.20" width="7.20" height="13.50" fill="#e5911b" stroke="#c77a12" stroke-width="0.75"/>
<line x1="358.7" y1="139.9" x2="365.90000000000003" y2="139.9" stroke="#0a0a0a" stroke-width="1.5"/>
<line x1="372.86" y1="119.4" x2="372.86" y2="151.3" stroke="#262626" stroke-width="1.15"/>
<rect x="369.26" y="132.20" width="7.20" height="8.80" fill="#e5911b" stroke="#c77a12" stroke-width="0.75"/>
<line x1="369.26" y1="137.3" x2="376.46000000000004" y2="137.3" stroke="#0a0a0a" stroke-width="1.5"/>
<line x1="383.42" y1="119.4" x2="383.42" y2="156.5" stroke="#262626" stroke-width="1.15"/>
<rect x="379.82" y="130.20" width="7.20" height="11.20" fill="#e5911b" stroke="#c77a12" stroke-width="0.75"/>
<line x1="379.82" y1="133.3" x2="387.02000000000004" y2="133.3" stroke="#0a0a0a" stroke-width="1.5"/>
<line x1="393.98" y1="119.4" x2="393.98" y2="155.8" stroke="#262626" stroke-width="1.15"/>
<rect x="390.38" y="121.50" width="7.20" height="19.50" fill="#e5911b" stroke="#c77a12" stroke-width="0.75"/>
<line x1="390.38" y1="129.3" x2="397.58000000000004" y2="129.3" stroke="#0a0a0a" stroke-width="1.5"/>
<line x1="404.54" y1="126.2" x2="404.54" y2="147.7" stroke="#262626" stroke-width="1.15"/>
<rect x="400.94" y="134.60" width="7.20" height="7.30" fill="#e5911b" stroke="#c77a12" stroke-width="0.75"/>
<line x1="400.94" y1="138.3" x2="408.14000000000004" y2="138.3" stroke="#0a0a0a" stroke-width="1.5"/>
<circle cx="404.54" cy="119.00" r="1.15" fill="#111"/>
<line x1="415.1" y1="126.2" x2="415.1" y2="155.8" stroke="#262626" stroke-width="1.15"/>
<rect x="411.50" y="136.90" width="7.20" height="11.50" fill="#e5911b" stroke="#c77a12" stroke-width="0.75"/>
<line x1="411.5" y1="143.7" x2="418.70000000000005" y2="143.7" stroke="#0a0a0a" stroke-width="1.5"/>
<line x1="76.6" y1="76.3" x2="422" y2="76.3" stroke="#5fa9e0" stroke-width="1.1" stroke-dasharray="2.05 1.4"/>
<line x1="76.6" y1="83.4" x2="422" y2="83.4" stroke="#b5173e" stroke-width="1.2" stroke-dasharray="2.05 1.4"/>
<line x1="76.6" y1="146.4" x2="422" y2="146.4" stroke="#5fa9e0" stroke-width="1.1" stroke-dasharray="2.05 1.4"/>
<line x1="76.6" y1="153.7" x2="422" y2="153.7" stroke="#b5173e" stroke-width="1.2" stroke-dasharray="2.05 1.4"/>
<circle cx="338.00" cy="58.50" r="1.1" fill="#c8365a"/>
<circle cx="348.60" cy="59.90" r="1.1" fill="#c8365a"/>
<circle cx="359.30" cy="59.10" r="1.1" fill="#c8365a"/>
<circle cx="369.70" cy="59.30" r="1.1" fill="#c8365a"/>
<circle cx="380.20" cy="58.50" r="1.1" fill="#c8365a"/>
<circle cx="390.50" cy="57.50" r="1.1" fill="#c8365a"/>
<circle cx="390.50" cy="60.60" r="1.1" fill="#c8365a"/>
<circle cx="390.50" cy="63.70" r="1.1" fill="#c8365a"/>
<circle cx="401.20" cy="56.70" r="1.1" fill="#c8365a"/>
<circle cx="401.20" cy="60.00" r="1.1" fill="#c8365a"/>
<circle cx="401.20" cy="63.00" r="1.1" fill="#c8365a"/>
<circle cx="412.30" cy="55.40" r="1.1" fill="#c8365a"/>
<circle cx="412.30" cy="58.60" r="1.1" fill="#c8365a"/>
<circle cx="396.70" cy="58.80" r="1.1" fill="#7cc0ee"/>
<circle cx="396.70" cy="62.20" r="1.1" fill="#7cc0ee"/>
<circle cx="407.20" cy="58.80" r="1.1" fill="#7cc0ee"/>
<circle cx="407.20" cy="62.20" r="1.1" fill="#7cc0ee"/>
<circle cx="418.50" cy="57.70" r="1.1" fill="#7cc0ee"/>
<circle cx="207.40" cy="97.20" r="1.1" fill="#7cc0ee"/>
<circle cx="201.00" cy="136.30" r="1.1" fill="#c8365a"/>
<circle cx="201.00" cy="139.60" r="1.1" fill="#c8365a"/>
<circle cx="222.30" cy="136.90" r="1.1" fill="#c8365a"/>
<circle cx="242.80" cy="131.60" r="1.1" fill="#c8365a"/>
<circle cx="242.80" cy="134.30" r="1.1" fill="#c8365a"/>
<circle cx="242.80" cy="137.00" r="1.1" fill="#c8365a"/>
<circle cx="253.80" cy="133.80" r="1.1" fill="#c8365a"/>
<circle cx="275.00" cy="136.00" r="1.1" fill="#c8365a"/>
<circle cx="285.20" cy="126.60" r="1.1" fill="#c8365a"/>
<circle cx="285.20" cy="129.80" r="1.1" fill="#c8365a"/>
<circle cx="296.00" cy="124.80" r="1.1" fill="#c8365a"/>
<circle cx="296.00" cy="128.20" r="1.1" fill="#c8365a"/>
<circle cx="306.20" cy="127.20" r="1.1" fill="#c8365a"/>
<circle cx="306.20" cy="130.90" r="1.1" fill="#c8365a"/>
<circle cx="316.80" cy="127.20" r="1.1" fill="#c8365a"/>
<circle cx="316.80" cy="130.90" r="1.1" fill="#c8365a"/>
<circle cx="327.00" cy="134.20" r="1.1" fill="#c8365a"/>
<circle cx="327.00" cy="137.60" r="1.1" fill="#c8365a"/>
<circle cx="349.00" cy="125.80" r="1.1" fill="#c8365a"/>
<circle cx="349.00" cy="129.10" r="1.1" fill="#c8365a"/>
<circle cx="349.00" cy="132.50" r="1.1" fill="#c8365a"/>
<circle cx="359.30" cy="124.80" r="1.1" fill="#c8365a"/>
<circle cx="359.30" cy="128.20" r="1.1" fill="#c8365a"/>
<circle cx="369.70" cy="122.10" r="1.1" fill="#c8365a"/>
<circle cx="369.70" cy="125.20" r="1.1" fill="#c8365a"/>
<circle cx="369.70" cy="128.60" r="1.1" fill="#c8365a"/>
<circle cx="380.20" cy="122.50" r="1.1" fill="#c8365a"/>
<circle cx="380.20" cy="126.20" r="1.1" fill="#c8365a"/>
<circle cx="401.50" cy="125.50" r="1.1" fill="#c8365a"/>
<circle cx="401.50" cy="128.90" r="1.1" fill="#c8365a"/>
<circle cx="401.50" cy="132.20" r="1.1" fill="#c8365a"/>
<circle cx="412.30" cy="131.10" r="1.1" fill="#c8365a"/>
<circle cx="312.20" cy="128.90" r="1.1" fill="#7cc0ee"/>
<circle cx="354.60" cy="129.80" r="1.1" fill="#7cc0ee"/>
<circle cx="365.40" cy="126.80" r="1.1" fill="#7cc0ee"/>
<circle cx="375.90" cy="124.80" r="1.1" fill="#7cc0ee"/>
<circle cx="375.90" cy="128.20" r="1.1" fill="#7cc0ee"/>
<circle cx="386.20" cy="122.50" r="1.1" fill="#7cc0ee"/>
<circle cx="386.20" cy="126.20" r="1.1" fill="#7cc0ee"/>
<circle cx="407.30" cy="125.50" r="1.1" fill="#7cc0ee"/>
<circle cx="407.30" cy="128.90" r="1.1" fill="#7cc0ee"/>
<circle cx="407.30" cy="132.20" r="1.1" fill="#7cc0ee"/>
<text x="29.3" y="107.4" font-size="10.2" text-anchor="middle" fill="#222" stroke="#222" stroke-width="0.1" textLength="75.1" lengthAdjust="spacingAndGlyphs" transform="rotate(-90 29.3 107.4)">Log BCL6 expression</text>
<text x="41.9" y="107.4" font-size="10.2" text-anchor="middle" fill="#222" stroke="#222" stroke-width="0.1" textLength="80.4" lengthAdjust="spacingAndGlyphs" transform="rotate(-90 41.9 107.4)">normalized to median</text>
<text x="54.5" y="107.4" font-size="10.2" text-anchor="middle" fill="#222" stroke="#222" stroke-width="0.1" textLength="117.0" lengthAdjust="spacingAndGlyphs" transform="rotate(-90 54.5 107.4)">house–keeping gene expression</text>
<text x="444.8" y="86.9" font-size="8.2" text-anchor="start" fill="#222" stroke="#222" stroke-width="0.16" textLength="42.2" lengthAdjust="spacingAndGlyphs">DataSource</text>
<line x1="448.6" y1="95.3" x2="448.6" y2="103.7" stroke="#1a1a1a" stroke-width="1.0"/>
<rect x="444.60" y="98.00" width="8.00" height="3.00" fill="#2b4b84"/>
<line x1="444.6" y1="99.5" x2="452.6" y2="99.5" stroke="#111" stroke-width="1.0"/>
<text x="455.9" y="102.4" font-size="8.2" text-anchor="start" fill="#222" stroke="#222" stroke-width="0.16" textLength="22.4" lengthAdjust="spacingAndGlyphs">OHSU</text>
<line x1="448.6" y1="110.8" x2="448.6" y2="119.2" stroke="#1a1a1a" stroke-width="1.0"/>
<rect x="444.60" y="113.50" width="8.00" height="3.00" fill="#e5911b"/>
<line x1="444.6" y1="115.0" x2="452.6" y2="115.0" stroke="#111" stroke-width="1.0"/>
<text x="455.9" y="117.9" font-size="8.2" text-anchor="start" fill="#222" stroke="#222" stroke-width="0.16" textLength="30.1" lengthAdjust="spacingAndGlyphs">Erasmus</text>
<line x1="448.6" y1="126.39999999999999" x2="448.6" y2="134.79999999999998" stroke="#1a1a1a" stroke-width="1.0"/>
<rect x="444.60" y="129.10" width="8.00" height="3.00" fill="#5cb54a"/>
<line x1="444.6" y1="130.6" x2="452.6" y2="130.6" stroke="#111" stroke-width="1.0"/>
<text x="455.9" y="133.5" font-size="8.2" text-anchor="start" fill="#222" stroke="#222" stroke-width="0.16" textLength="25.5" lengthAdjust="spacingAndGlyphs">Normal</text>
<text x="455.9" y="142.8" font-size="8.2" text-anchor="start" fill="#222" stroke="#222" stroke-width="0.16" textLength="54.3" lengthAdjust="spacingAndGlyphs">Hematopoiesis</text>
<text x="49.7" y="228.0" font-size="8.6" text-anchor="start" fill="#b5173e" stroke="#b5173e" stroke-width="0.16" textLength="45.2" lengthAdjust="spacingAndGlyphs">Normal HSC</text>
<text x="49.7" y="240.2" font-size="8.6" text-anchor="start" fill="#6aaee0" stroke="#6aaee0" stroke-width="0.16" textLength="47.5" lengthAdjust="spacingAndGlyphs">Normal GMP</text>
<line x1="100.4" y1="225.5" x2="125.6" y2="225.5" stroke="#b5173e" stroke-width="1.0" stroke-dasharray="2 1.2"/>
<line x1="100.4" y1="237.3" x2="125.6" y2="237.3" stroke="#6aaee0" stroke-width="1.0" stroke-dasharray="2 1.2"/>
<text x="49.7" y="251.7" font-size="8" fill="#222" stroke="#222" stroke-width="0.16" textLength="132.5" lengthAdjust="spacingAndGlyphs"><tspan font-style="italic">p</tspan> values (AML vs nomal <tspan fill="#b5173e" stroke="#b5173e">HSCs</tspan>/ <tspan fill="#6aaee0" stroke="#6aaee0">GMP</tspan>)</text>
<text x="49.7" y="261.6" font-size="8" fill="#222" stroke="#222" stroke-width="0.16"><tspan font-style="italic">p</tspan> ≤ 0.05</text>
<text x="93.3" y="262.20000000000005" font-size="9.5" text-anchor="start" fill="#222" stroke="#222" stroke-width="0.16">*</text>
<text x="49.7" y="271.5" font-size="8" fill="#222" stroke="#222" stroke-width="0.16"><tspan font-style="italic">p</tspan> ≤ 0.01</text>
<text x="93.3" y="272.1" font-size="9.5" text-anchor="start" fill="#222" stroke="#222" stroke-width="0.16">**</text>
<text x="49.7" y="280.7" font-size="8" fill="#222" stroke="#222" stroke-width="0.16"><tspan font-style="italic">p</tspan> ≤ 0.001</text>
<text x="93.3" y="281.3" font-size="9.5" text-anchor="start" fill="#222" stroke="#222" stroke-width="0.16">***</text>
<text x="249.2" y="281.3" font-size="10" text-anchor="middle" fill="#222" stroke="#222" stroke-width="0.16" textLength="35.7" lengthAdjust="spacingAndGlyphs">Genotype</text>
<text x="8" y="319.1" font-size="12.5" text-anchor="start" fill="#111" stroke="#111" stroke-width="0.55" font-weight="bold">B</text>
<text x="194.2" y="320.2" font-size="10" text-anchor="middle" fill="#222" stroke="#222" stroke-width="0.16" textLength="77.9" lengthAdjust="spacingAndGlyphs">BCL6 Expression</text>
<rect x="76.20" y="325.50" width="236.30" height="12.80" fill="#c4c4c4" stroke="#111" stroke-width="1.3"/>
<text x="193.9" y="334.7" font-size="8.8" text-anchor="middle" fill="#222" stroke="#222" stroke-width="0.16" textLength="18.2" lengthAdjust="spacingAndGlyphs">AML</text>
<rect x="312.50" y="338.30" width="12.70" height="57.00" fill="#c4c4c4" stroke="#111" stroke-width="1.3"/>
<rect x="312.50" y="398.70" width="12.70" height="57.30" fill="#c4c4c4" stroke="#111" stroke-width="1.3"/>
<text x="315.5" y="367.1" font-size="9.2" text-anchor="middle" fill="#222" stroke="#222" stroke-width="0.16" textLength="24.5" lengthAdjust="spacingAndGlyphs" transform="rotate(90 315.5 367.1)">OHSU</text>
<text x="315.5" y="426.7" font-size="9.2" text-anchor="middle" fill="#222" stroke="#222" stroke-width="0.16" textLength="32.6" lengthAdjust="spacingAndGlyphs" transform="rotate(90 315.5 426.7)">Erasmus</text>
<line x1="76.3" y1="338.3" x2="76.3" y2="396.2" stroke="#222" stroke-width="1.2"/>
<line x1="76.3" y1="399.0" x2="76.3" y2="456.3" stroke="#222" stroke-width="1.2"/>
<line x1="75.7" y1="456.1" x2="312.5" y2="456.1" stroke="#222" stroke-width="1.2"/>
<line x1="73.0" y1="348.28000000000003" x2="76.3" y2="348.28000000000003" stroke="#222" stroke-width="0.9"/>
<text x="69.8" y="350.88000000000005" font-size="9.2" text-anchor="end" fill="#222" stroke="#222" stroke-width="0.16">2</text>
<line x1="73.0" y1="359.1" x2="76.3" y2="359.1" stroke="#222" stroke-width="0.9"/>
<text x="69.8" y="361.70000000000005" font-size="9.2" text-anchor="end" fill="#222" stroke="#222" stroke-width="0.16">0</text>
<line x1="73.0" y1="369.92" x2="76.3" y2="369.92" stroke="#222" stroke-width="0.9"/>
<text x="69.8" y="372.52000000000004" font-size="9.2" text-anchor="end" fill="#222" stroke="#222" stroke-width="0.16" textLength="9.8" lengthAdjust="spacingAndGlyphs">−2</text>
<line x1="73.0" y1="380.74" x2="76.3" y2="380.74" stroke="#222" stroke-width="0.9"/>
<text x="69.8" y="383.34000000000003" font-size="9.2" text-anchor="end" fill="#222" stroke="#222" stroke-width="0.16" textLength="9.8" lengthAdjust="spacingAndGlyphs">−4</text>
<line x1="73.0" y1="391.56" x2="76.3" y2="391.56" stroke="#222" stroke-width="0.9"/>
<text x="69.8" y="394.16" font-size="9.2" text-anchor="end" fill="#222" stroke="#222" stroke-width="0.16" textLength="9.8" lengthAdjust="spacingAndGlyphs">−6</text>
<line x1="73.0" y1="408.58000000000004" x2="76.3" y2="408.58000000000004" stroke="#222" stroke-width="0.9"/>
<text x="69.8" y="411.18000000000006" font-size="9.2" text-anchor="end" fill="#222" stroke="#222" stroke-width="0.16">2</text>
<line x1="73.0" y1="419.40000000000003" x2="76.3" y2="419.40000000000003" stroke="#222" stroke-width="0.9"/>
<text x="69.8" y="422.00000000000006" font-size="9.2" text-anchor="end" fill="#222" stroke="#222" stroke-width="0.16">0</text>
<line x1="73.0" y1="430.22" x2="76.3" y2="430.22" stroke="#222" stroke-width="0.9"/>
<text x="69.8" y="432.82000000000005" font-size="9.2" text-anchor="end" fill="#222" stroke="#222" stroke-width="0.16" textLength="9.8" lengthAdjust="spacingAndGlyphs">−2</text>
<line x1="73.0" y1="441.04" x2="76.3" y2="441.04" stroke="#222" stroke-width="0.9"/>
<text x="69.8" y="443.64000000000004" font-size="9.2" text-anchor="end" fill="#222" stroke="#222" stroke-width="0.16" textLength="9.8" lengthAdjust="spacingAndGlyphs">−4</text>
<line x1="73.0" y1="451.86" x2="76.3" y2="451.86" stroke="#222" stroke-width="0.9"/>
<text x="69.8" y="454.46000000000004" font-size="9.2" text-anchor="end" fill="#222" stroke="#222" stroke-width="0.16" textLength="9.8" lengthAdjust="spacingAndGlyphs">−6</text>
<line x1="88.5" y1="456.1" x2="88.5" y2="459.4" stroke="#222" stroke-width="0.9"/>
<text x="91.6" y="462.8" font-size="8.8" text-anchor="end" fill="#222" stroke="#222" stroke-width="0.16" textLength="11.5" lengthAdjust="spacingAndGlyphs" transform="rotate(-90 91.6 462.8)">M0</text>
<line x1="109.53" y1="456.1" x2="109.53" y2="459.4" stroke="#222" stroke-width="0.9"/>
<text x="112.63" y="462.8" font-size="8.8" text-anchor="end" fill="#222" stroke="#222" stroke-width="0.16" textLength="11.5" lengthAdjust="spacingAndGlyphs" transform="rotate(-90 112.63 462.8)">M1</text>
<line x1="130.56" y1="456.1" x2="130.56" y2="459.4" stroke="#222" stroke-width="0.9"/>
<text x="133.66" y="462.8" font-size="8.8" text-anchor="end" fill="#222" stroke="#222" stroke-width="0.16" textLength="11.5" lengthAdjust="spacingAndGlyphs" transform="rotate(-90 133.66 462.8)">M2</text>
<line x1="151.59" y1="456.1" x2="151.59" y2="459.4" stroke="#222" stroke-width="0.9"/>
<text x="154.69" y="462.8" font-size="8.8" text-anchor="end" fill="#222" stroke="#222" stroke-width="0.16" textLength="11.5" lengthAdjust="spacingAndGlyphs" transform="rotate(-90 154.69 462.8)">M3</text>
<line x1="172.62" y1="456.1" x2="172.62" y2="459.4" stroke="#222" stroke-width="0.9"/>
<text x="175.72" y="462.8" font-size="8.8" text-anchor="end" fill="#222" stroke="#222" stroke-width="0.16" textLength="11.5" lengthAdjust="spacingAndGlyphs" transform="rotate(-90 175.72 462.8)">M4</text>
<line x1="193.65" y1="456.1" x2="193.65" y2="459.4" stroke="#222" stroke-width="0.9"/>
<text x="196.75" y="462.8" font-size="8.8" text-anchor="end" fill="#222" stroke="#222" stroke-width="0.16" textLength="11.5" lengthAdjust="spacingAndGlyphs" transform="rotate(-90 196.75 462.8)">M5</text>
<line x1="214.68" y1="456.1" x2="214.68" y2="459.4" stroke="#222" stroke-width="0.9"/>
<text x="217.78" y="462.8" font-size="8.8" text-anchor="end" fill="#222" stroke="#222" stroke-width="0.16" textLength="11.5" lengthAdjust="spacingAndGlyphs" transform="rotate(-90 217.78 462.8)">M6</text>
<line x1="235.71" y1="456.1" x2="235.71" y2="459.4" stroke="#222" stroke-width="0.9"/>
<text x="238.81" y="462.8" font-size="8.8" text-anchor="end" fill="#222" stroke="#222" stroke-width="0.16" textLength="11.5" lengthAdjust="spacingAndGlyphs" transform="rotate(-90 238.81 462.8)">M7</text>
<line x1="256.74" y1="456.1" x2="256.74" y2="459.4" stroke="#222" stroke-width="0.9"/>
<text x="259.84000000000003" y="462.8" font-size="8.8" text-anchor="end" fill="#222" stroke="#222" stroke-width="0.16" textLength="22.5" lengthAdjust="spacingAndGlyphs" transform="rotate(-90 259.84000000000003 462.8)">RAEB</text>
<line x1="277.77" y1="456.1" x2="277.77" y2="459.4" stroke="#222" stroke-width="0.9"/>
<text x="280.87" y="462.8" font-size="8.8" text-anchor="end" fill="#222" stroke="#222" stroke-width="0.16" textLength="28.3" lengthAdjust="spacingAndGlyphs" transform="rotate(-90 280.87 462.8)">RAEB-t</text>
<line x1="298.8" y1="456.1" x2="298.8" y2="459.4" stroke="#222" stroke-width="0.9"/>
<text x="301.90000000000003" y="462.8" font-size="8.8" text-anchor="end" fill="#222" stroke="#222" stroke-width="0.16" textLength="46.5" lengthAdjust="spacingAndGlyphs" transform="rotate(-90 301.90000000000003 462.8)">Unclassified</text>
<text x="194.5" y="494.8" font-size="10.8" text-anchor="middle" fill="#222" stroke="#222" stroke-width="0.16" textLength="13.6" lengthAdjust="spacingAndGlyphs">FAB</text>
<rect x="81.15" y="370.80" width="14.70" height="6.60" fill="#2b4b84" stroke="#182d5a" stroke-width="0.75"/>
<line x1="81.15" y1="374.0" x2="95.85" y2="374.0" stroke="#0a0a0a" stroke-width="1.5"/>
<circle cx="88.50" cy="355.40" r="1.15" fill="#111"/>
<line x1="109.53" y1="354.8" x2="109.53" y2="386.2" stroke="#262626" stroke-width="1.15"/>
<rect x="102.18" y="359.90" width="14.70" height="18.40" fill="#2b4b84" stroke="#182d5a" stroke-width="0.75"/>
<line x1="102.18" y1="370.8" x2="116.88" y2="370.8" stroke="#0a0a0a" stroke-width="1.5"/>
<line x1="130.56" y1="370.0" x2="130.56" y2="386.1" stroke="#262626" stroke-width="1.15"/>
<rect x="123.21" y="373.00" width="14.70" height="7.90" fill="#2b4b84" stroke="#182d5a" stroke-width="0.75"/>
<line x1="123.21000000000001" y1="373.5" x2="137.91" y2="373.5" stroke="#0a0a0a" stroke-width="1.5"/>
<circle cx="130.56" cy="357.40" r="1.15" fill="#111"/>
<line x1="151.59" y1="377.8" x2="151.59" y2="393.7" stroke="#262626" stroke-width="1.15"/>
<rect x="144.24" y="381.60" width="14.70" height="6.90" fill="#2b4b84" stroke="#182d5a" stroke-width="0.75"/>
<line x1="144.24" y1="383.0" x2="158.94" y2="383.0" stroke="#0a0a0a" stroke-width="1.5"/>
<line x1="172.62" y1="356.7" x2="172.62" y2="370.9" stroke="#262626" stroke-width="1.15"/>
<rect x="165.27" y="362.60" width="14.70" height="3.40" fill="#2b4b84" stroke="#182d5a" stroke-width="0.75"/>
<line x1="165.27" y1="364.3" x2="179.97" y2="364.3" stroke="#0a0a0a" stroke-width="1.5"/>
<circle cx="172.62" cy="354.80" r="1.15" fill="#111"/>
<circle cx="172.62" cy="373.80" r="1.15" fill="#111"/>
<line x1="193.65" y1="354.8" x2="193.65" y2="386.5" stroke="#262626" stroke-width="1.15"/>
<rect x="186.30" y="362.20" width="14.70" height="9.50" fill="#2b4b84" stroke="#182d5a" stroke-width="0.75"/>
<line x1="186.3" y1="365.3" x2="201.0" y2="365.3" stroke="#0a0a0a" stroke-width="1.5"/>
<line x1="235.71" y1="357.2" x2="235.71" y2="367.8" stroke="#262626" stroke-width="1.15"/>
<rect x="228.36" y="360.40" width="14.70" height="4.20" fill="#2b4b84" stroke="#182d5a" stroke-width="0.75"/>
<line x1="228.36" y1="362.5" x2="243.06" y2="362.5" stroke="#0a0a0a" stroke-width="1.5"/>
<line x1="298.8" y1="340.3" x2="298.8" y2="393.2" stroke="#262626" stroke-width="1.15"/>
<rect x="291.45" y="362.10" width="14.70" height="12.70" fill="#2b4b84" stroke="#182d5a" stroke-width="0.75"/>
<line x1="291.45" y1="367.8" x2="306.15000000000003" y2="367.8" stroke="#0a0a0a" stroke-width="1.5"/>
<circle cx="298.80" cy="340.30" r="1.15" fill="#111"/>
<line x1="88.5" y1="428.5" x2="88.5" y2="437.0" stroke="#262626" stroke-width="1.15"/>
<rect x="81.15" y="421.50" width="14.70" height="7.00" fill="#e5911b" stroke="#c77a12" stroke-width="0.75"/>
<line x1="81.15" y1="427.8" x2="95.85" y2="427.8" stroke="#0a0a0a" stroke-width="1.5"/>
<circle cx="88.50" cy="411.40" r="1.15" fill="#111"/>
<line x1="109.53" y1="418.8" x2="109.53" y2="440.0" stroke="#262626" stroke-width="1.15"/>
<rect x="102.18" y="429.20" width="14.70" height="6.60" fill="#e5911b" stroke="#c77a12" stroke-width="0.75"/>
<line x1="102.18" y1="432.7" x2="116.88" y2="432.7" stroke="#0a0a0a" stroke-width="1.5"/>
<line x1="130.56" y1="414.6" x2="130.56" y2="437.0" stroke="#262626" stroke-width="1.15"/>
<rect x="123.21" y="425.00" width="14.70" height="7.60" fill="#e5911b" stroke="#c77a12" stroke-width="0.75"/>
<line x1="123.21000000000001" y1="428.5" x2="137.91" y2="428.5" stroke="#0a0a0a" stroke-width="1.5"/>
<circle cx="130.56" cy="412.80" r="1.15" fill="#111"/>
<line x1="151.59" y1="419.9" x2="151.59" y2="437.7" stroke="#262626" stroke-width="1.15"/>
<rect x="144.24" y="427.30" width="14.70" height="5.80" fill="#e5911b" stroke="#c77a12" stroke-width="0.75"/>
<line x1="144.24" y1="429.6" x2="158.94" y2="429.6" stroke="#0a0a0a" stroke-width="1.5"/>
<line x1="172.62" y1="406.5" x2="172.62" y2="438.4" stroke="#262626" stroke-width="1.15"/>
<rect x="165.27" y="417.60" width="14.70" height="10.40" fill="#e5911b" stroke="#c77a12" stroke-width="0.75"/>
<line x1="165.27" y1="424.3" x2="179.97" y2="424.3" stroke="#0a0a0a" stroke-width="1.5"/>
<line x1="193.65" y1="406.9" x2="193.65" y2="439.8" stroke="#262626" stroke-width="1.15"/>
<rect x="186.30" y="417.20" width="14.70" height="10.30" fill="#e5911b" stroke="#c77a12" stroke-width="0.75"/>
<line x1="186.3" y1="421.5" x2="201.0" y2="421.5" stroke="#0a0a0a" stroke-width="1.5"/>
<line x1="214.68" y1="426.9" x2="214.68" y2="439.5" stroke="#262626" stroke-width="1.15"/>
<rect x="207.33" y="432.60" width="14.70" height="4.20" fill="#e5911b" stroke="#c77a12" stroke-width="0.75"/>
<line x1="207.33" y1="436.2" x2="222.03" y2="436.2" stroke="#0a0a0a" stroke-width="1.5"/>
<line x1="256.74" y1="408.4" x2="256.74" y2="423.4" stroke="#262626" stroke-width="1.15"/>
<rect x="249.39" y="415.70" width="14.70" height="7.70" fill="#e5911b" stroke="#c77a12" stroke-width="0.75"/>
<line x1="249.39000000000001" y1="422.7" x2="264.09000000000003" y2="422.7" stroke="#0a0a0a" stroke-width="1.5"/>
<line x1="277.77" y1="415.0" x2="277.77" y2="430.9" stroke="#262626" stroke-width="1.15"/>
<rect x="270.42" y="417.90" width="14.70" height="11.30" fill="#e5911b" stroke="#c77a12" stroke-width="0.75"/>
<line x1="270.41999999999996" y1="428.5" x2="285.12" y2="428.5" stroke="#0a0a0a" stroke-width="1.5"/>
<line x1="298.8" y1="411.0" x2="298.8" y2="423.6" stroke="#262626" stroke-width="1.15"/>
<rect x="291.45" y="413.20" width="14.70" height="6.40" fill="#e5911b" stroke="#c77a12" stroke-width="0.75"/>
<line x1="291.45" y1="413.6" x2="306.15000000000003" y2="413.6" stroke="#0a0a0a" stroke-width="1.5"/>
<circle cx="298.80" cy="434.30" r="1.15" fill="#111"/>
<text x="29.3" y="397.1" font-size="10.2" text-anchor="middle" fill="#222" stroke="#222" stroke-width="0.1" textLength="74.8" lengthAdjust="spacingAndGlyphs" transform="rotate(-90 29.3 397.1)">Log BCL6 expression</text>
<text x="41.8" y="397.1" font-size="10.2" text-anchor="middle" fill="#222" stroke="#222" stroke-width="0.1" textLength="81.4" lengthAdjust="spacingAndGlyphs" transform="rotate(-90 41.8 397.1)">normalized to median</text>
<text x="54.4" y="397.1" font-size="10.2" text-anchor="middle" fill="#222" stroke="#222" stroke-width="0.1" textLength="117.3" lengthAdjust="spacingAndGlyphs" transform="rotate(-90 54.4 397.1)">house–keeping gene expression</text>
<text x="335.2" y="384.2" font-size="8.2" text-anchor="start" fill="#222" stroke="#222" stroke-width="0.16" textLength="41.9" lengthAdjust="spacingAndGlyphs">DataSource</text>
<line x1="339.0" y1="392.6" x2="339.0" y2="401.0" stroke="#1a1a1a" stroke-width="1.0"/>
<rect x="335.00" y="395.30" width="8.00" height="3.00" fill="#2b4b84"/>
<line x1="335.0" y1="396.8" x2="343.0" y2="396.8" stroke="#111" stroke-width="1.0"/>
<text x="346.3" y="399.90000000000003" font-size="8.2" text-anchor="start" fill="#222" stroke="#222" stroke-width="0.16" textLength="22.7" lengthAdjust="spacingAndGlyphs">OHSU</text>
<line x1="339.0" y1="408.2" x2="339.0" y2="416.59999999999997" stroke="#1a1a1a" stroke-width="1.0"/>
<rect x="335.00" y="410.90" width="8.00" height="3.00" fill="#e5911b"/>
<line x1="335.0" y1="412.4" x2="343.0" y2="412.4" stroke="#111" stroke-width="1.0"/>
<text x="346.3" y="415.5" font-size="8.2" text-anchor="start" fill="#222" stroke="#222" stroke-width="0.16" textLength="30.0" lengthAdjust="spacingAndGlyphs">Erasmus</text>
<text x="7.8" y="536.2" font-size="12.3" text-anchor="start" fill="#111" stroke="#111" stroke-width="0.55" font-weight="bold">C</text>
<line x1="68.7" y1="541.2" x2="68.7" y2="669.0" stroke="#111" stroke-width="1.2"/>
<line x1="65.3" y1="668.45" x2="255" y2="668.45" stroke="#111" stroke-width="1.2"/>
<line x1="64.0" y1="544.5999999999999" x2="68.1" y2="544.5999999999999" stroke="#222" stroke-width="0.9"/>
<text x="62.6" y="547.3999999999999" font-size="9.0" text-anchor="end" fill="#222" stroke="#222" stroke-width="0.16" textLength="12.4" lengthAdjust="spacingAndGlyphs">2.0</text>
<line x1="64.0" y1="575.525" x2="68.1" y2="575.525" stroke="#222" stroke-width="0.9"/>
<text x="62.6" y="578.3249999999999" font-size="9.0" text-anchor="end" fill="#222" stroke="#222" stroke-width="0.16" textLength="12.4" lengthAdjust="spacingAndGlyphs">1.5</text>
<line x1="64.0" y1="606.4499999999999" x2="68.1" y2="606.4499999999999" stroke="#222" stroke-width="0.9"/>
<text x="62.6" y="609.2499999999999" font-size="9.0" text-anchor="end" fill="#222" stroke="#222" stroke-width="0.16" textLength="12.4" lengthAdjust="spacingAndGlyphs">1.0</text>
<line x1="64.0" y1="637.375" x2="68.1" y2="637.375" stroke="#222" stroke-width="0.9"/>
<text x="62.6" y="640.175" font-size="9.0" text-anchor="end" fill="#222" stroke="#222" stroke-width="0.16" textLength="12.4" lengthAdjust="spacingAndGlyphs">0.5</text>
<line x1="64.0" y1="668.3" x2="68.1" y2="668.3" stroke="#222" stroke-width="0.9"/>
<text x="62.6" y="671.0999999999999" font-size="9.0" text-anchor="end" fill="#222" stroke="#222" stroke-width="0.16" textLength="12.4" lengthAdjust="spacingAndGlyphs">0.0</text>
<line x1="98.1" y1="540.6" x2="98.1" y2="668" stroke="#383838" stroke-width="1.4" stroke-dasharray="1.9 1.5"/>
<line x1="76.3" y1="668.4" x2="76.3" y2="671.4" stroke="#222" stroke-width="0.9"/>
<text x="79.3" y="675.2" font-size="8.8" text-anchor="end" fill="#222" stroke="#222" stroke-width="0.16" textLength="60.6" lengthAdjust="spacingAndGlyphs" transform="rotate(-90 79.3 675.2)">nBMC(CD34+)1</text>
<line x1="76.3" y1="665.51675" x2="76.3" y2="667.8051999999999" stroke="#111" stroke-width="1.0"/>
<line x1="74.39999999999999" y1="665.51675" x2="78.2" y2="665.51675" stroke="#111" stroke-width="1.1"/>
<rect x="73.35" y="667.81" width="5.90" height="0.59" fill="#a10b2f"/>
<line x1="88.1" y1="668.4" x2="88.1" y2="671.4" stroke="#222" stroke-width="0.9"/>
<text x="91.1" y="675.2" font-size="8.8" text-anchor="end" fill="#222" stroke="#222" stroke-width="0.16" textLength="60.6" lengthAdjust="spacingAndGlyphs" transform="rotate(-90 91.1 675.2)">nBMC(CD34+)2</text>
<line x1="88.1" y1="663.04275" x2="88.1" y2="665.8259999999999" stroke="#111" stroke-width="1.0"/>
<line x1="86.19999999999999" y1="663.04275" x2="90.0" y2="663.04275" stroke="#111" stroke-width="1.1"/>
<rect x="85.15" y="665.83" width="5.90" height="2.57" fill="#a10b2f"/>
<line x1="107.35" y1="668.4" x2="107.35" y2="671.4" stroke="#222" stroke-width="0.9"/>
<text x="110.35" y="675.2" font-size="8.8" text-anchor="end" fill="#222" stroke="#222" stroke-width="0.16" transform="rotate(-90 110.35 675.2)">AML1</text>
<line x1="119.0" y1="668.4" x2="119.0" y2="671.4" stroke="#222" stroke-width="0.9"/>
<text x="122.0" y="675.2" font-size="8.8" text-anchor="end" fill="#222" stroke="#222" stroke-width="0.16" transform="rotate(-90 122.0 675.2)">AML8</text>
<line x1="119.0" y1="654.0745" x2="119.0" y2="654.8785499999999" stroke="#111" stroke-width="1.0"/>
<line x1="117.1" y1="654.0745" x2="120.9" y2="654.0745" stroke="#111" stroke-width="1.1"/>
<rect x="116.05" y="654.88" width="5.90" height="13.52" fill="#a10b2f"/>
<line x1="130.65" y1="668.4" x2="130.65" y2="671.4" stroke="#222" stroke-width="0.9"/>
<text x="133.65" y="675.2" font-size="8.8" text-anchor="end" fill="#222" stroke="#222" stroke-width="0.16" transform="rotate(-90 133.65 675.2)">AML10</text>
<line x1="130.65" y1="660.8779999999999" x2="130.65" y2="662.115" stroke="#111" stroke-width="1.0"/>
<line x1="128.75" y1="660.8779999999999" x2="132.55" y2="660.8779999999999" stroke="#111" stroke-width="1.1"/>
<rect x="127.70" y="662.12" width="5.90" height="6.28" fill="#a10b2f"/>
<line x1="142.3" y1="668.4" x2="142.3" y2="671.4" stroke="#222" stroke-width="0.9"/>
<text x="145.3" y="675.2" font-size="8.8" text-anchor="end" fill="#222" stroke="#222" stroke-width="0.16" transform="rotate(-90 145.3 675.2)">AML12</text>
<line x1="142.3" y1="648.5079999999999" x2="142.3" y2="649.745" stroke="#111" stroke-width="1.0"/>
<line x1="140.4" y1="648.5079999999999" x2="144.20000000000002" y2="648.5079999999999" stroke="#111" stroke-width="1.1"/>
<rect x="139.35" y="649.75" width="5.90" height="18.65" fill="#a10b2f"/>
<line x1="153.95" y1="668.4" x2="153.95" y2="671.4" stroke="#222" stroke-width="0.9"/>
<text x="156.95" y="675.2" font-size="8.8" text-anchor="end" fill="#222" stroke="#222" stroke-width="0.16" transform="rotate(-90 156.95 675.2)">AML24</text>
<line x1="153.95" y1="578.6175" x2="153.95" y2="582.63775" stroke="#111" stroke-width="1.0"/>
<line x1="152.04999999999998" y1="578.6175" x2="155.85" y2="578.6175" stroke="#111" stroke-width="1.1"/>
<rect x="151.00" y="582.64" width="5.90" height="85.76" fill="#a10b2f"/>
<line x1="165.6" y1="668.4" x2="165.6" y2="671.4" stroke="#222" stroke-width="0.9"/>
<text x="168.6" y="675.2" font-size="8.8" text-anchor="end" fill="#222" stroke="#222" stroke-width="0.16" transform="rotate(-90 168.6 675.2)">AML32</text>
<line x1="165.6" y1="636.1379999999999" x2="165.6" y2="637.5605499999999" stroke="#111" stroke-width="1.0"/>
<line x1="163.7" y1="636.1379999999999" x2="167.5" y2="636.1379999999999" stroke="#111" stroke-width="1.1"/>
<rect x="162.65" y="637.56" width="5.90" height="30.84" fill="#a10b2f"/>
<line x1="177.25" y1="668.4" x2="177.25" y2="671.4" stroke="#222" stroke-width="0.9"/>
<text x="180.25" y="675.2" font-size="8.8" text-anchor="end" fill="#222" stroke="#222" stroke-width="0.16" transform="rotate(-90 180.25 675.2)">AML33</text>
<line x1="177.25" y1="658.7132499999999" x2="177.25" y2="659.641" stroke="#111" stroke-width="1.0"/>
<line x1="175.35" y1="658.7132499999999" x2="179.15" y2="658.7132499999999" stroke="#111" stroke-width="1.1"/>
<rect x="174.30" y="659.64" width="5.90" height="8.76" fill="#a10b2f"/>
<line x1="188.89999999999998" y1="668.4" x2="188.89999999999998" y2="671.4" stroke="#222" stroke-width="0.9"/>
<text x="191.89999999999998" y="675.2" font-size="8.8" text-anchor="end" fill="#222" stroke="#222" stroke-width="0.16" transform="rotate(-90 191.89999999999998 675.2)">AML37</text>
<line x1="188.89999999999998" y1="658.7132499999999" x2="188.89999999999998" y2="659.641" stroke="#111" stroke-width="1.0"/>
<line x1="186.99999999999997" y1="658.7132499999999" x2="190.79999999999998" y2="658.7132499999999" stroke="#111" stroke-width="1.1"/>
<rect x="185.95" y="659.64" width="5.90" height="8.76" fill="#a10b2f"/>
<line x1="200.55" y1="668.4" x2="200.55" y2="671.4" stroke="#222" stroke-width="0.9"/>
<text x="203.55" y="675.2" font-size="8.8" text-anchor="end" fill="#222" stroke="#222" stroke-width="0.16" transform="rotate(-90 203.55 675.2)">AML55</text>
<line x1="200.55" y1="663.04275" x2="200.55" y2="663.9704999999999" stroke="#111" stroke-width="1.0"/>
<line x1="198.65" y1="663.04275" x2="202.45000000000002" y2="663.04275" stroke="#111" stroke-width="1.1"/>
<rect x="197.60" y="663.97" width="5.90" height="4.43" fill="#a10b2f"/>
<line x1="212.2" y1="668.4" x2="212.2" y2="671.4" stroke="#222" stroke-width="0.9"/>
<text x="215.2" y="675.2" font-size="8.8" text-anchor="end" fill="#222" stroke="#222" stroke-width="0.16" transform="rotate(-90 215.2 675.2)">AML74</text>
<line x1="223.85" y1="668.4" x2="223.85" y2="671.4" stroke="#222" stroke-width="0.9"/>
<text x="226.85" y="675.2" font-size="8.8" text-anchor="end" fill="#222" stroke="#222" stroke-width="0.16" transform="rotate(-90 226.85 675.2)">AML95</text>
<line x1="223.85" y1="667.9289" x2="223.85" y2="668.1144499999999" stroke="#111" stroke-width="1.0"/>
<line x1="221.95" y1="667.9289" x2="225.75" y2="667.9289" stroke="#111" stroke-width="1.1"/>
<rect x="220.90" y="668.11" width="5.90" height="0.29" fill="#a10b2f"/>
<line x1="235.5" y1="668.4" x2="235.5" y2="671.4" stroke="#222" stroke-width="0.9"/>
<text x="238.5" y="675.2" font-size="8.8" text-anchor="end" fill="#222" stroke="#222" stroke-width="0.16" transform="rotate(-90 238.5 675.2)">AML98</text>
<line x1="247.15" y1="668.4" x2="247.15" y2="671.4" stroke="#222" stroke-width="0.9"/>
<text x="250.15" y="675.2" font-size="8.8" text-anchor="end" fill="#222" stroke="#222" stroke-width="0.16" transform="rotate(-90 250.15 675.2)">AML109</text>
<line x1="247.15" y1="629.3344999999999" x2="247.15" y2="647.271" stroke="#111" stroke-width="1.0"/>
<line x1="245.25" y1="629.3344999999999" x2="249.05" y2="629.3344999999999" stroke="#111" stroke-width="1.1"/>
<rect x="244.20" y="647.27" width="5.90" height="21.13" fill="#a10b2f"/>
<text x="31.3" y="604.4" font-size="10.0" text-anchor="middle" fill="#222" stroke="#222" stroke-width="0.12" textLength="70.5" lengthAdjust="spacingAndGlyphs" transform="rotate(-90 31.3 604.4)">Relative expression</text>
<text x="43.9" y="605" font-size="9.8" fill="#222" stroke="#222" stroke-width="0.16" text-anchor="middle" transform="rotate(-90 43.8 605)" textLength="78.8" lengthAdjust="spacingAndGlyphs">(2<tspan font-size="6.5" dy="-3.4">-dCt</tspan><tspan dy="3.4"> : </tspan><tspan font-style="italic">BCL6/ GAPDH</tspan>)</text>
<text x="272.2" y="536.8" font-size="12.0" text-anchor="start" fill="#111" stroke="#111" stroke-width="0.55" font-weight="bold">D</text>
<line x1="330.5" y1="544.3" x2="330.5" y2="669.0" stroke="#111" stroke-width="1.1"/>
<line x1="327.2" y1="668.5" x2="484.8" y2="668.5" stroke="#111" stroke-width="1.2"/>
<line x1="326.2" y1="561.75" x2="330.2" y2="561.75" stroke="#222" stroke-width="0.9"/>
<text x="324.3" y="564.65" font-size="9.2" text-anchor="end" fill="#222" stroke="#222" stroke-width="0.16" textLength="15.0" lengthAdjust="spacingAndGlyphs">600</text>
<line x1="326.2" y1="597.3" x2="330.2" y2="597.3" stroke="#222" stroke-width="0.9"/>
<text x="324.3" y="600.1999999999999" font-size="9.2" text-anchor="end" fill="#222" stroke="#222" stroke-width="0.16" textLength="15.0" lengthAdjust="spacingAndGlyphs">400</text>
<line x1="326.2" y1="632.85" x2="330.2" y2="632.85" stroke="#222" stroke-width="0.9"/>
<text x="324.3" y="635.75" font-size="9.2" text-anchor="end" fill="#222" stroke="#222" stroke-width="0.16" textLength="15.0" lengthAdjust="spacingAndGlyphs">200</text>
<line x1="326.2" y1="668.4" x2="330.2" y2="668.4" stroke="#222" stroke-width="0.9"/>
<text x="324.3" y="671.3" font-size="9.2" text-anchor="end" fill="#222" stroke="#222" stroke-width="0.16">0</text>
<line x1="337.3" y1="668.4" x2="337.3" y2="671.5" stroke="#222" stroke-width="0.9"/>
<text x="340.3" y="676.5" font-size="8.4" text-anchor="end" fill="#222" stroke="#222" stroke-width="0.16" transform="rotate(-90 340.3 676.5)">AML1</text>
<line x1="337.3" y1="624.4" x2="337.3" y2="627.0" stroke="#111" stroke-width="1.0"/>
<line x1="335.0" y1="624.4" x2="339.6" y2="624.4" stroke="#111" stroke-width="1.1"/>
<rect x="333.10" y="627.00" width="8.40" height="41.40" fill="#a10b2f"/>
<line x1="351.44" y1="668.4" x2="351.44" y2="671.5" stroke="#222" stroke-width="0.9"/>
<text x="354.44" y="676.5" font-size="8.4" text-anchor="end" fill="#222" stroke="#222" stroke-width="0.16" transform="rotate(-90 354.44 676.5)">AML7</text>
<line x1="351.44" y1="609.0" x2="351.44" y2="610.7" stroke="#111" stroke-width="1.0"/>
<line x1="349.14" y1="609.0" x2="353.74" y2="609.0" stroke="#111" stroke-width="1.1"/>
<rect x="347.24" y="610.70" width="8.40" height="57.70" fill="#a10b2f"/>
<line x1="365.58000000000004" y1="668.4" x2="365.58000000000004" y2="671.5" stroke="#222" stroke-width="0.9"/>
<text x="368.58000000000004" y="676.5" font-size="8.4" text-anchor="end" fill="#222" stroke="#222" stroke-width="0.16" transform="rotate(-90 368.58000000000004 676.5)">AML8</text>
<line x1="365.58000000000004" y1="645.6" x2="365.58000000000004" y2="646.6" stroke="#111" stroke-width="1.0"/>
<line x1="363.28000000000003" y1="645.6" x2="367.88000000000005" y2="645.6" stroke="#111" stroke-width="1.1"/>
<rect x="361.38" y="646.60" width="8.40" height="21.80" fill="#a10b2f"/>
<line x1="379.72" y1="668.4" x2="379.72" y2="671.5" stroke="#222" stroke-width="0.9"/>
<text x="382.72" y="676.5" font-size="8.4" text-anchor="end" fill="#222" stroke="#222" stroke-width="0.16" transform="rotate(-90 382.72 676.5)">AML10</text>
<line x1="379.72" y1="621.3" x2="379.72" y2="623.4" stroke="#111" stroke-width="1.0"/>
<line x1="377.42" y1="621.3" x2="382.02000000000004" y2="621.3" stroke="#111" stroke-width="1.1"/>
<rect x="375.52" y="623.40" width="8.40" height="45.00" fill="#a10b2f"/>
<line x1="393.86" y1="668.4" x2="393.86" y2="671.5" stroke="#222" stroke-width="0.9"/>
<text x="396.86" y="676.5" font-size="8.4" text-anchor="end" fill="#222" stroke="#222" stroke-width="0.16" transform="rotate(-90 396.86 676.5)">AML12</text>
<line x1="393.86" y1="618.6" x2="393.86" y2="635.2" stroke="#111" stroke-width="1.0"/>
<line x1="391.56" y1="618.6" x2="396.16" y2="618.6" stroke="#111" stroke-width="1.1"/>
<rect x="389.66" y="635.20" width="8.40" height="33.20" fill="#a10b2f"/>
<line x1="408.0" y1="668.4" x2="408.0" y2="671.5" stroke="#222" stroke-width="0.9"/>
<text x="411.0" y="676.5" font-size="8.4" text-anchor="end" fill="#222" stroke="#222" stroke-width="0.16" transform="rotate(-90 411.0 676.5)">AML24</text>
<line x1="408.0" y1="631.6" x2="408.0" y2="633.0" stroke="#111" stroke-width="1.0"/>
<line x1="405.7" y1="631.6" x2="410.3" y2="631.6" stroke="#111" stroke-width="1.1"/>
<rect x="403.80" y="633.00" width="8.40" height="35.40" fill="#a10b2f"/>
<line x1="422.14" y1="668.4" x2="422.14" y2="671.5" stroke="#222" stroke-width="0.9"/>
<text x="425.14" y="676.5" font-size="8.4" text-anchor="end" fill="#222" stroke="#222" stroke-width="0.16" transform="rotate(-90 425.14 676.5)">AML32</text>
<line x1="422.14" y1="556.5" x2="422.14" y2="559.6" stroke="#111" stroke-width="1.0"/>
<line x1="419.84" y1="556.5" x2="424.44" y2="556.5" stroke="#111" stroke-width="1.1"/>
<rect x="417.94" y="559.60" width="8.40" height="108.80" fill="#a10b2f"/>
<line x1="436.28000000000003" y1="668.4" x2="436.28000000000003" y2="671.5" stroke="#222" stroke-width="0.9"/>
<text x="439.28000000000003" y="676.5" font-size="8.4" text-anchor="end" fill="#222" stroke="#222" stroke-width="0.16" transform="rotate(-90 439.28000000000003 676.5)">AML33</text>
<line x1="436.28000000000003" y1="582.7" x2="436.28000000000003" y2="592.3" stroke="#111" stroke-width="1.0"/>
<line x1="433.98" y1="582.7" x2="438.58000000000004" y2="582.7" stroke="#111" stroke-width="1.1"/>
<rect x="432.08" y="592.30" width="8.40" height="76.10" fill="#a10b2f"/>
<line x1="450.42" y1="668.4" x2="450.42" y2="671.5" stroke="#222" stroke-width="0.9"/>
<text x="453.42" y="676.5" font-size="8.4" text-anchor="end" fill="#222" stroke="#222" stroke-width="0.16" transform="rotate(-90 453.42 676.5)">AML37</text>
<line x1="450.42" y1="558.4" x2="450.42" y2="560.0" stroke="#111" stroke-width="1.0"/>
<line x1="448.12" y1="558.4" x2="452.72" y2="558.4" stroke="#111" stroke-width="1.1"/>
<rect x="446.22" y="560.00" width="8.40" height="108.40" fill="#a10b2f"/>
<line x1="464.56" y1="668.4" x2="464.56" y2="671.5" stroke="#222" stroke-width="0.9"/>
<text x="467.56" y="676.5" font-size="8.4" text-anchor="end" fill="#222" stroke="#222" stroke-width="0.16" transform="rotate(-90 467.56 676.5)">AML55</text>
<line x1="464.56" y1="574.5" x2="464.56" y2="579.8" stroke="#111" stroke-width="1.0"/>
<line x1="462.26" y1="574.5" x2="466.86" y2="574.5" stroke="#111" stroke-width="1.1"/>
<rect x="460.36" y="579.80" width="8.40" height="88.60" fill="#a10b2f"/>
<line x1="478.70000000000005" y1="668.4" x2="478.70000000000005" y2="671.5" stroke="#222" stroke-width="0.9"/>
<text x="481.70000000000005" y="676.5" font-size="8.4" text-anchor="end" fill="#222" stroke="#222" stroke-width="0.16" transform="rotate(-90 481.70000000000005 676.5)">nBM</text>
<line x1="478.70000000000005" y1="662.4" x2="478.70000000000005" y2="665.2" stroke="#111" stroke-width="1.0"/>
<line x1="476.40000000000003" y1="662.4" x2="481.00000000000006" y2="662.4" stroke="#111" stroke-width="1.1"/>
<rect x="474.50" y="665.20" width="8.40" height="3.20" fill="#a10b2f"/>
<text x="291.7" y="605.8" font-size="10.0" text-anchor="middle" fill="#222" stroke="#222" stroke-width="0.16" textLength="16.9" lengthAdjust="spacingAndGlyphs" transform="rotate(-90 291.7 605.8)">BCL6</text>
<text x="304.2" y="606.7" font-size="10.4" text-anchor="middle" fill="#222" stroke="#222" stroke-width="0.12" textLength="127.8" lengthAdjust="spacingAndGlyphs" transform="rotate(-90 304.2 606.7)">(MFI normalized to isotype control)</text>
<rect x="0.5" y="0.5" width="518.8" height="743.8" fill="none" stroke="#000" stroke-width="1.2"/>
</svg>
</body></html>
